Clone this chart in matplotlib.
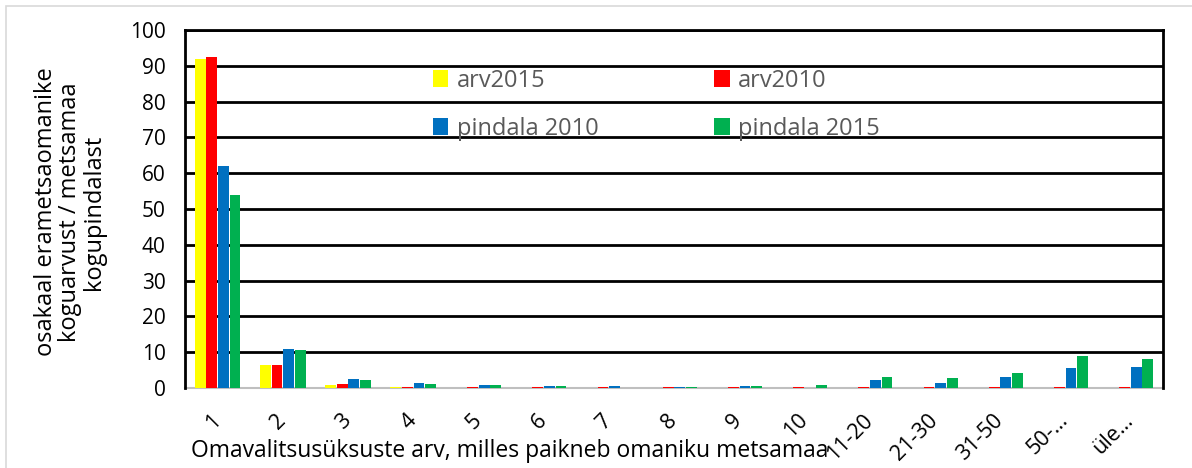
import numpy as np
import matplotlib
matplotlib.use("Agg")
import matplotlib.pyplot as plt
from matplotlib.patches import Rectangle

plt.rcParams['font.family'] = ['Open Sans', 'DejaVu Sans']

categories = ["1", "2", "3", "4", "5", "6", "7", "8", "9", "10",
              "11-20", "21-30", "31-50", "50-…", "üle…"]
arv2015 = [92.0, 6.5, 0.8, 0.2, 0.1, 0.1, 0.1, 0.1, 0.1, 0.1, 0.1, 0.1, 0.1, 0.1, 0.1]
arv2010 = [92.5, 6.5, 1.0, 0.4, 0.3, 0.3, 0.3, 0.3, 0.3, 0.3, 0.3, 0.3, 0.3, 0.3, 0.3]
pindala2010 = [62.0, 10.8, 2.5, 1.5, 0.7, 0.6, 0.5, 0.3, 0.5, 0.0, 2.3, 1.5, 3.2, 5.7, 5.9]
pindala2015 = [53.8, 10.5, 2.2, 1.1, 0.8, 0.6, 0.1, 0.3, 0.5, 0.9, 3.2, 2.9, 4.1, 8.8, 8.2]

series = [("arv2015", arv2015, "#FFFF00"),
          ("arv2010", arv2010, "#FF0000"),
          ("pindala 2010", pindala2010, "#0070C0"),
          ("pindala 2015", pindala2015, "#00B050")]

fig = plt.figure(figsize=(11.92, 4.68), dpi=100)
# light outer frame of the chart area (runs off the right and bottom edges)
fig.patches.append(Rectangle((6/1192, -0.05), 1.2, 1.05 - 6/468, transform=fig.transFigure,
                             fill=False, edgecolor="#d9d9d9", lw=1.2))
ax = fig.add_axes([185/1192, 1 - 388/468, 978/1192, 358/468])

x = np.arange(len(categories))
w = 0.165
step = 0.178
handles = []
for i, (lab, vals, col) in enumerate(series):
    h = ax.bar(x + (i - 1.5) * step, vals, width=w, color=col, label=lab,
               linewidth=0, zorder=3)
    handles.append(h)

ax.set_xlim(-0.5, len(categories) - 0.5)
ax.set_ylim(0, 100)
ax.set_yticks(range(0, 101, 10))
ax.yaxis.grid(True, color="black", lw=2, zorder=0)
ax.set_axisbelow(True)
for s in ["left", "right", "top"]:
    ax.spines[s].set_color("black")
    ax.spines[s].set_linewidth(2)
ax.spines["bottom"].set_color("#bfbfbf")
ax.spines["bottom"].set_linewidth(1.5)
ax.spines["bottom"].set_zorder(2)
ax.tick_params(axis="both", length=0, labelsize=15, colors="black")
ax.tick_params(axis="y", pad=14)
ax.set_xticks(x)
ax.set_xticklabels(categories, rotation=45, ha="right", va="center",
                   rotation_mode="anchor", fontsize=15.5)
ax.tick_params(axis="x", pad=21)

# row-major legend: arv2015, arv2010 / pindala 2010, pindala 2015
order = [0, 2, 1, 3]
ax.legend(handles=[handles[i] for i in order], ncol=2,
          loc="upper left", bbox_to_anchor=(0.232, 0.95), frameon=False,
          fontsize=17, labelcolor="#595959", handlelength=0.65, handleheight=0.72,
          handletextpad=0.35, columnspacing=4.9, labelspacing=1.0)

fig.text(510/1192, 1 - 451/468, "Omavalitsusüksuste arv, milles paikneb omaniku metsamaa",
         ha="center", va="center", fontsize=16.5)
fig.text(70/1192, 1 - 212/468, "osakaal erametsaomanike\nkoguarvust / metsamaa\nkogupindalast",
         ha="center", va="center", rotation=90, fontsize=17, linespacing=1.0)

fig.savefig("out.png", dpi=100)
